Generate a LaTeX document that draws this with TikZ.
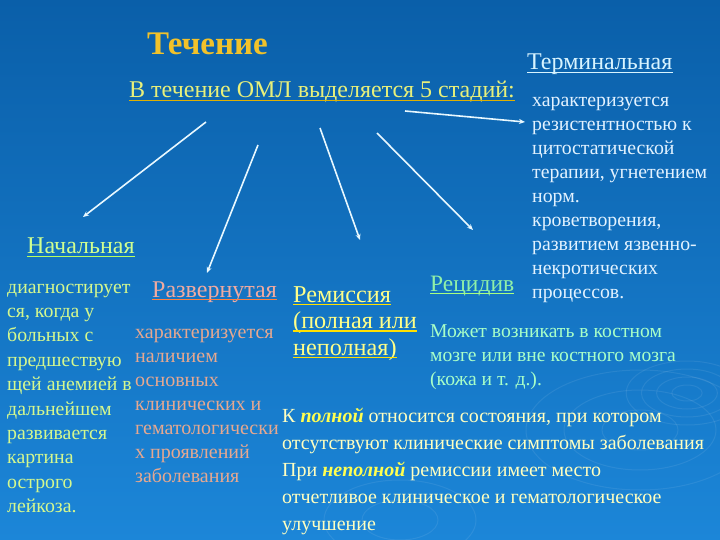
\documentclass[tikz,border=0pt]{standalone}
\usepackage{fontspec}
\setmainfont{Liberation Serif}
\usetikzlibrary{arrows.meta}
\definecolor{bgtop}{HTML}{0A5FA9}
\definecolor{bgbot}{HTML}{1C86D8}
\definecolor{cgold}{HTML}{F2C22A}
\definecolor{csub}{HTML}{E8F07A}
\definecolor{csubul}{HTML}{E0B000}
\definecolor{cterm}{HTML}{D8F4FF}
\definecolor{ctermtx}{HTML}{E2F2FF}
\definecolor{cnach}{HTML}{D0FF90}
\definecolor{cnachul}{HTML}{B8FF60}
\definecolor{cleft}{HTML}{D4F88E}
\definecolor{crazv}{HTML}{F0AAA0}
\definecolor{crazvul}{HTML}{FF8040}
\definecolor{crazvtx}{HTML}{E6A890}
\definecolor{crem}{HTML}{FFFF88}
\definecolor{cremul}{HTML}{FFE000}
\definecolor{crec}{HTML}{90F0A8}
\definecolor{crecul}{HTML}{A8FF80}
\definecolor{cmozh}{HTML}{A8FFC8}
\definecolor{cpol}{HTML}{FFFFC0}
\definecolor{cpolem}{HTML}{FFFF50}
\definecolor{carrow}{HTML}{E8F8FF}
\newcommand\myfs[2]{\fontsize{#1}{#2}\selectfont}
\begin{document}
\begin{tikzpicture}[x=1pt,y=-1pt,
  lbl/.style={inner sep=0pt, anchor=base west},
  blk/.style={inner sep=0pt, anchor=north west, align=left},
  ul/.style={line width=1.3pt},
  arr/.style={draw=carrow, line width=1.6pt, -{Stealth[length=6pt,width=5pt]}},
  ripple/.style={draw=white, opacity=0.08, line width=1pt}]
\shade[top color=bgtop, bottom color=bgbot] (0,0) rectangle (720,540);
\useasboundingbox (0,0) rectangle (720,540);
% faint ripples
\foreach \r in {8,16,24,32}{\draw[ripple] (687,393) ellipse ({1.9*\r} and {\r});}
\foreach \r in {20,40,60}{\draw[ripple] (640,430) ellipse ({1.9*\r} and {\r});}
\foreach \r in {20,40}{\draw[ripple] (400,520) ellipse ({1.9*\r} and {\r});}
% title
\node[lbl, text=cgold, font=\myfs{33}{38}\bfseries] (title) at (147,55) {Течение};
\node[lbl, text=csub, font=\myfs{24}{28}] (sub) at (129,98) {В течение ОМЛ выделяется 5 стадий:};
\draw[ul, csubul] ([yshift=-2.5pt]sub.base west) -- ([yshift=-2.5pt]sub.base east);
% terminal
\node[lbl, text=cterm, font=\myfs{24}{28}] (term) at (527,70) {Терминальная};
\draw[ul, cterm] ([yshift=-2.5pt]term.base west) -- ([yshift=-2.5pt]term.base east);
\node[blk, text=ctermtx, font=\myfs{19.8}{24}] (termtx) at (532,89.2) {\strut характеризуется\\резистентностью к\\цитостатической\\терапии, угнетением\\норм.\\кроветворения,\\развитием язвенно-\\некротических\\процессов.};
% initial
\node[lbl, text=cnach, font=\myfs{24}{28}] (nach) at (27,254) {Начальная};
\draw[ul, cnachul] ([yshift=-2.5pt]nach.base west) -- ([yshift=-2.5pt]nach.base east);
\node[blk, text=cleft, font=\myfs{19.8}{24.4}] (lefttx) at (7,275.9) {\strut диагностирует\\ся, когда у\\больных с\\предшествую\\щей анемией в\\дальнейшем\\развивается\\картина\\острого\\лейкоза.};
% developed
\node[lbl, text=crazv, font=\myfs{24}{28}] (razv) at (152,297) {Развернутая};
\draw[ul, crazvul] ([yshift=-2.5pt]razv.base west) -- ([yshift=-2.5pt]razv.base east);
\node[blk, text=crazvtx, font=\myfs{20}{24}] (razvtx) at (135,321.2) {\strut характеризуется\\наличием\\основных\\клинических и\\гематологически\\х проявлений\\заболевания};
% remission
\node[lbl, text=crem, font=\myfs{24.2}{28}] (rem1) at (293,302) {Ремиссия};
\node[lbl, text=crem, font=\myfs{24.2}{28}] (rem2) at (293,328.5) {(полная или};
\node[lbl, text=crem, font=\myfs{24.2}{28}] (rem3) at (293,355) {неполная)};
\draw[ul, cremul] ([yshift=-2.5pt]rem1.base west) -- ([yshift=-2.5pt]rem1.base east);
\draw[ul, cremul] ([yshift=-2.5pt]rem2.base west) -- ([yshift=-2.5pt]rem2.base east);
\draw[ul, cremul] ([yshift=-2.5pt]rem3.base west) -- ([yshift=-2.5pt]rem3.base east);
% relapse
\node[lbl, text=crec, font=\myfs{23.5}{27}] (rec) at (430,291) {Рецидив};
\draw[ul, crecul] ([yshift=-2.5pt]rec.base west) -- ([yshift=-2.5pt]rec.base east);
\node[blk, text=cmozh, font=\myfs{19.6}{24}] (mozh) at (430,320.2) {\strut Может возникать в костном\\мозге или вне костного мозга\\(кожа и т. д.).};
\node[blk, text=cpol, font=\myfs{20}{27}] (pol) at (282,403.1) {\strut К \textcolor{cpolem}{\textbf{\textit{полной}}} относится состояния, при котором\\отсутствуют клинические симптомы заболевания\\При \textcolor{cpolem}{\textbf{\textit{неполной}}} ремиссии имеет место\\отчетливое клиническое и гематологическое\\улучшение};
% arrows
\coordinate (s1) at (206,122); \coordinate (e1) at (83,217);
\coordinate (s2) at (258,145); \coordinate (e2) at (207,273);
\coordinate (s3) at (320,128); \coordinate (e3) at (360,240);
\coordinate (s4) at (377,133); \coordinate (e4) at (473,230);
\coordinate (s5) at (405,111); \coordinate (e5) at (525,122);
\draw[arr] (s1) -- (e1);
\draw[arr] (s2) -- (e2);
\draw[arr] (s3) -- (e3);
\draw[arr] (s4) -- (e4);
\draw[arr] (s5) -- (e5);
\end{tikzpicture}
\end{document}
